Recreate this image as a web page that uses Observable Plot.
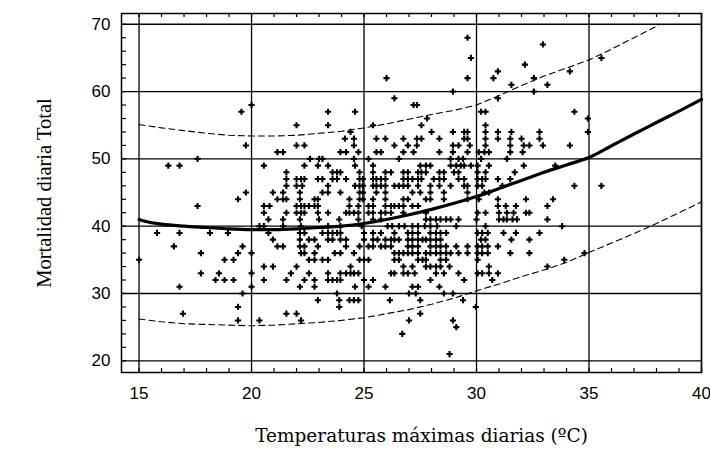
<!DOCTYPE html>
<html>
<head>
<meta charset="utf-8">
<script src="https://cdn.jsdelivr.net/npm/d3@7"></script>
<script src="https://cdn.jsdelivr.net/npm/@observablehq/plot@0.6"></script>
<style>
  html, body { margin: 0; padding: 0; background: #fff; }
</style>
</head>
<body>
<div id="chart"></div>
<script>
// Observed days: daily mortality level (integer) and the maximum temperatures observed at it
const mortalityLevels = [68,67,65,64,63,62,61,60,59,58,57,56,55,54,53,52,51,50,49,48,47,46,45,44,43,42,41,40,39,38,37,36,35,34,33,32,31,30,29,28,27,26,25,24,21];
const tempsAtLevel = [
  [29.6],
  [32.95],
  [29.75, 35.55],
  [32.15],
  [30.95, 34.15],
  [26.0, 29.6, 30.75, 32.55],
  [31.55, 33.15],
  [28.95, 32.55],
  [26.35, 30.95],
  [20.0, 27.2, 27.35],
  [19.55, 23.4, 24.6, 30.2, 30.4, 34.35],
  [27.8, 34.95],
  [22.0, 23.4, 25.4, 27.55, 30.4],
  [24.4, 28.0, 28.95, 29.45, 29.6, 30.4, 30.95, 31.55, 32.8, 34.95],
  [24.15, 24.55, 25.55, 25.95, 26.75, 27.35, 27.55, 28.35, 29.45, 29.6, 30.4, 30.95, 31.5, 32.0, 32.8],
  [19.75, 22.0, 22.35, 24.55, 26.35, 26.95, 27.35, 28.95, 29.2, 29.7, 30.4, 31.5, 32.1, 32.35, 32.95, 34.15],
  [21.15, 21.4, 23.95, 24.2, 24.75, 25.55, 25.75, 26.75, 27.2, 28.35, 28.95, 29.6, 30.1, 30.35, 30.55, 31.5, 32.05],
  [17.6, 22.6, 23.0, 23.15, 24.55, 25.2, 26.55, 28.85, 29.2, 29.4, 30.2, 31.35],
  [16.3, 16.8, 20.55, 22.35, 22.95, 23.4, 24.6, 25.4, 27.5, 27.75, 27.95, 28.85, 29.1, 29.3, 29.45, 29.75, 30.05, 30.55, 32.1, 33.5],
  [21.55, 23.6, 23.8, 23.95, 24.8, 25.4, 25.95, 26.2, 26.75, 26.95, 27.4, 27.55, 27.75, 28.35, 28.55, 29.0, 29.2, 30.05, 30.4, 31.7],
  [21.55, 22.0, 22.2, 22.35, 22.95, 23.15, 23.6, 23.8, 24.2, 24.8, 24.95, 25.4, 25.55, 25.75, 25.95, 26.75, 26.95, 27.15, 27.4, 27.55, 28.1, 28.35, 28.55, 29.2, 29.45, 30.05, 30.25, 30.4, 30.95, 31.5],
  [21.55, 22.0, 22.25, 23.4, 24.6, 24.8, 24.95, 25.4, 25.55, 25.75, 25.95, 26.35, 26.55, 26.75, 26.95, 27.4, 27.95, 28.35, 28.85, 29.45, 29.6, 30.05, 30.25, 31.15, 34.35, 35.55],
  [19.75, 20.95, 21.4, 22.15, 23.15, 23.4, 23.95, 24.8, 24.95, 25.55, 25.95, 27.15, 27.5, 27.95, 28.55, 29.6, 30.35, 30.55],
  [19.4, 21.15, 21.4, 21.55, 22.15, 22.8, 22.95, 24.35, 24.8, 24.95, 25.4, 25.95, 26.75, 26.95, 27.75, 27.95, 28.55, 29.6, 30.1, 30.95, 32.2, 33.4],
  [17.6, 20.55, 20.8, 22.0, 22.2, 22.35, 22.55, 22.8, 22.95, 24.35, 24.75, 25.2, 25.4, 25.95, 26.2, 26.35, 26.55, 26.75, 27.15, 27.4, 30.95, 31.3, 31.75, 33.15],
  [20.55, 21.55, 22.0, 22.2, 22.35, 22.95, 23.4, 24.2, 24.35, 24.55, 24.75, 25.2, 25.4, 25.75, 25.95, 26.2, 26.75, 27.75, 30.05, 30.4, 31.0, 31.35, 31.65, 32.2, 32.35],
  [20.75, 21.4, 22.15, 23.0, 23.9, 24.75, 25.4, 25.75, 27.75, 27.95, 28.2, 28.4, 28.65, 28.85, 29.2, 30.0, 31.0, 31.2, 31.35, 31.6, 31.8, 33.15],
  [20.35, 20.55, 21.4, 22.2, 23.4, 23.95, 24.9, 26.05, 26.25, 26.55, 26.8, 27.15, 27.4, 27.7, 27.95, 28.25, 29.1, 30.4, 33.8],
  [15.8, 16.8, 18.15, 18.95, 20.75, 22.15, 22.35, 23.15, 23.4, 23.6, 23.8, 23.95, 25.0, 25.4, 25.75, 26.35, 26.95, 27.15, 27.4, 27.95, 28.2, 28.4, 28.65, 30.05, 30.25, 30.5, 31.2, 31.75, 32.8],
  [20.95, 22.15, 22.55, 22.8, 23.4, 23.6, 23.95, 24.2, 25.0, 25.4, 25.6, 25.95, 26.2, 26.35, 26.55, 26.95, 27.15, 27.4, 27.6, 27.75, 27.95, 28.2, 28.4, 30.2, 30.4, 31.55, 32.35],
  [16.55, 19.6, 21.15, 21.4, 22.15, 22.35, 22.95, 24.2, 24.8, 25.2, 25.4, 25.75, 25.95, 26.2, 26.95, 27.15, 27.4, 27.95, 28.2, 28.4, 28.65, 29.1, 29.6, 30.05, 30.25, 30.5, 30.95],
  [17.75, 19.4, 20.0, 22.2, 22.35, 22.8, 23.7, 23.95, 24.55, 26.35, 26.55, 26.75, 26.95, 27.15, 27.4, 27.75, 27.95, 28.2, 28.4, 28.65, 28.85, 29.2, 29.6, 30.05, 30.25, 30.5, 31.5, 32.35, 34.8],
  [15.0, 18.8, 19.2, 22.55, 22.8, 23.15, 23.4, 24.8, 25.0, 25.2, 26.35, 26.55, 27.4, 27.6, 27.75, 28.4, 28.65, 30.05, 33.9],
  [20.55, 20.95, 22.0, 24.4, 26.75, 27.15, 27.75, 27.95, 28.2, 28.4, 28.8, 30.55, 33.15],
  [17.75, 18.55, 20.0, 21.75, 22.55, 23.4, 23.95, 24.2, 24.4, 24.55, 24.75, 26.2, 26.35, 26.75, 26.95, 27.25, 28.2, 28.55, 29.2, 30.05, 30.25, 30.55, 30.95],
  [18.4, 18.8, 19.2, 20.55, 21.55, 22.35, 22.8, 23.4, 23.6, 23.8, 23.95, 25.0, 25.4, 27.95, 29.45, 30.7],
  [16.8, 20.0, 22.15, 22.8, 24.6, 25.2, 25.95, 27.15, 27.4, 28.35],
  [19.6, 23.8, 27.0, 27.3, 28.55, 28.95],
  [22.95, 23.9, 24.35, 24.55, 24.75, 26.15, 27.5, 29.4],
  [19.4, 23.9, 29.97],
  [16.95, 21.55, 22.0, 27.5],
  [19.4, 20.35, 22.2, 27.0, 28.95],
  [29.1],
  [26.7],
  [28.8]
];

// Fitted curve
const fitTemp = [15, 15.3, 16, 17, 18, 19, 20, 21, 22, 23, 24, 25, 26, 27, 28, 29, 30, 31, 32, 33, 34, 35, 36, 37, 38, 39, 40];
const fitMort = [41.0, 40.7, 40.3, 40.0, 39.8, 39.6, 39.5, 39.5, 39.6, 39.8, 40.0, 40.4, 41.0, 41.7, 42.5, 43.4, 44.4, 45.6, 46.8, 48.0, 49.1, 50.2, 51.95, 53.7, 55.4, 57.1, 58.85];

// Upper and lower bands (dashed)
const upperTemp = [15, 16, 17, 18, 19, 20, 21, 22, 23, 24, 25, 26, 27, 28, 29, 30, 31, 32, 33, 34, 35, 36, 37, 38, 38.15];
const upperMort = [55.1, 54.6, 54.2, 53.8, 53.5, 53.4, 53.4, 53.5, 53.8, 54.1, 54.6, 55.2, 55.9, 56.6, 57.2, 58.0, 59.4, 60.9, 62.3, 63.5, 64.7, 66.3, 68.0, 69.7, 70.0];
const lowerTemp = [15, 16, 17, 18, 19, 20, 21, 22, 23, 24, 25, 26, 27, 28, 29, 30, 31, 32, 33, 34, 35, 36, 37, 38, 39, 40];
const lowerMort = [26.2, 25.8, 25.5, 25.4, 25.3, 25.2, 25.3, 25.5, 25.7, 26.0, 26.4, 27.0, 27.6, 28.4, 29.3, 30.4, 31.4, 32.5, 33.5, 34.6, 36.1, 37.5, 38.9, 40.4, 42.0, 43.6];

// Axes
const xDomain = [14.22, 40];
const yDomain = [18.26, 71.6];
const xTicks = [15, 20, 25, 30, 35, 40];
const yTicks = [20, 30, 40, 50, 60, 70];
const xMinorTicks = d3.range(15, 41, 1);
const yMinorTicks = d3.range(20, 72, 2);
const xTitle = "Temperaturas máximas diarias (ºC)";
const yTitle = "Mortalidad diaria Total";

const W = 710, H = 450, mL = 121, mR = 9, mT = 13, mB = 78;
const xUnitsPerPx = (xDomain[1] - xDomain[0]) / (W - mL - mR);
const yUnitsPerPx = (yDomain[1] - yDomain[0]) / (H - mT - mB);
const tickLenX = 4, tickLenY = 5;

const obs = mortalityLevels.flatMap((m, i) => tempsAtLevel[i].map(t => ({t, m})));
const fit = fitTemp.map((t, i) => ({t, m: fitMort[i]}));
const upper = upperTemp.map((t, i) => ({t, m: upperMort[i]}));
const lower = lowerTemp.map((t, i) => ({t, m: lowerMort[i]}));

const serif = "Liberation Serif, Times New Roman, serif";

const chart = Plot.plot({
  width: W,
  height: H,
  marginLeft: mL,
  marginRight: mR,
  marginTop: mT,
  marginBottom: mB,
  style: {background: "#fff", color: "#000", fontFamily: "Liberation Sans, Arial, sans-serif"},
  x: {domain: xDomain, axis: null},
  y: {domain: yDomain, axis: null},
  marks: [
    Plot.gridX(xTicks, {stroke: "#000", strokeOpacity: 1, strokeWidth: 1.3}),
    Plot.gridY(yTicks, {stroke: "#000", strokeOpacity: 1, strokeWidth: 1.3}),
    // inward frame ticks
    Plot.ruleX(xMinorTicks, {x: d => d, y1: yDomain[0], y2: yDomain[0] + tickLenX * yUnitsPerPx, stroke: "#000", strokeWidth: 1.2}),
    Plot.ruleX(xMinorTicks, {x: d => d, y1: yDomain[1] - tickLenX * yUnitsPerPx, y2: yDomain[1], stroke: "#000", strokeWidth: 1.2}),
    Plot.ruleY(yMinorTicks, {y: d => d, x1: xDomain[0], x2: xDomain[0] + tickLenY * xUnitsPerPx, stroke: "#000", strokeWidth: 1.2}),
    Plot.frame({stroke: "#000", strokeWidth: 1.5}),
    Plot.dot(obs, {x: "t", y: "m", symbol: "cross", r: 2.6, fill: "#000", stroke: null}),
    Plot.line(upper, {x: "t", y: "m", stroke: "#000", strokeWidth: 1.1, strokeDasharray: "6,4"}),
    Plot.line(lower, {x: "t", y: "m", stroke: "#000", strokeWidth: 1.1, strokeDasharray: "6,4"}),
    Plot.line(fit, {x: "t", y: "m", stroke: "#000", strokeWidth: 3.2, curve: "monotone-x"}),
    Plot.text(xTicks, {x: d => d, frameAnchor: "bottom", dy: 21, lineAnchor: "middle", fontSize: 17, fill: "#000"}),
    Plot.text(yTicks, {y: d => d, frameAnchor: "left", dx: -11, textAnchor: "end", lineAnchor: "middle", fontSize: 17, fill: "#000"}),
    Plot.text([xTitle], {frameAnchor: "bottom", dx: 10, dy: 64, textAnchor: "middle", lineAnchor: "middle", fontSize: 18.5, fontFamily: "DejaVu Serif, serif", fill: "#000"}),
    Plot.text([yTitle], {frameAnchor: "left", dx: -77, textAnchor: "middle", rotate: -90, lineAnchor: "middle", fontSize: 20.5, fontFamily: serif, fill: "#000"})
  ]
});
document.getElementById("chart").appendChild(chart);
</script>
</body>
</html>
